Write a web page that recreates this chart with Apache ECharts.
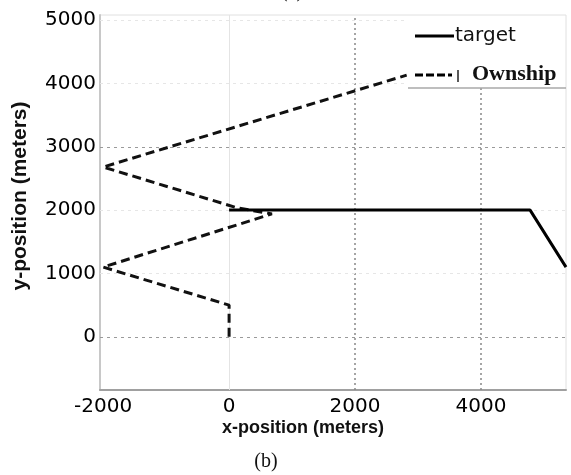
<!DOCTYPE html>
<html>
<head>
<meta charset="utf-8">
<script src="https://cdn.jsdelivr.net/npm/echarts@6/dist/echarts.min.js"></script>
<style>html,body{margin:0;padding:0;background:#fff;}#c{width:571px;height:475px;}</style>
</head>
<body>
<div id="c"></div>
<script>
// Data
const targetX = [0, 4780, 5350];
const targetY = [2000, 2000, 1100];
const ownshipX = [0, 0, -2000, 680, 130, -2000, 2820];
const ownshipY = [0, 500, 1100, 1940, 2035, 2680, 4130];
const xTicks = [-2000, 0, 2000, 4000];
const yTicks = [0, 1000, 2000, 3000, 4000, 5000];
const xGridStrong = [2000, 4000];
const xGridFaint = [0];
const yGridStrong = [0, 3000];
const yGridFaint = [1000, 2000, 4000, 5000];

const chart = echarts.init(document.getElementById('c'));
const pair = (xs, ys) => xs.map((x, i) => [x, ys[i]]);

const gridMarks = [];
xGridStrong.forEach(v => gridMarks.push({xAxis: v, lineStyle: {color: '#888', type: [2, 3], width: 1.5}}));
xGridFaint.forEach(v => gridMarks.push({xAxis: v, lineStyle: {color: '#e4e4e4', type: 'solid', width: 1}}));
yGridStrong.forEach(v => gridMarks.push({yAxis: v, lineStyle: {color: '#9a9a9a', type: [3, 4], width: 1}}));
yGridFaint.forEach(v => gridMarks.push({yAxis: v, lineStyle: {color: '#e6e6e6', type: [3, 4], width: 1}}));

const tickFont = {fontFamily: 'DejaVu Sans', fontSize: 20, color: '#000', formatter: v => String(v)};

chart.setOption({
  animation: false,
  backgroundColor: '#fff',
  grid: {left: 100, right: 5, top: 15, bottom: 85, show: true, borderColor: '#e0e0e0', borderWidth: 1},
  xAxis: {
    type: 'value', min: -2050, max: 5350,
    axisLine: {show: true, onZero: false, lineStyle: {color: '#a0a0a0', width: 2}},
    axisTick: {show: false},
    splitLine: {show: false},
    axisLabel: Object.assign({customValues: xTicks, margin: 7}, tickFont)
  },
  yAxis: {
    type: 'value', min: -840, max: 5080,
    axisLine: {show: true, onZero: false, lineStyle: {color: '#c8c8c8', width: 2}},
    axisTick: {show: false},
    splitLine: {show: false},
    axisLabel: Object.assign({customValues: yTicks, margin: 4}, tickFont)
  },
  series: [
    {
      type: 'line', data: [], silent: true, z: 1,
      markLine: {z: 1, silent: true, symbol: 'none', label: {show: false}, animation: false, data: gridMarks}
    },
    {
      name: 'target', type: 'line', data: pair(targetX, targetY), showSymbol: false, z: 4,
      lineStyle: {color: '#000', width: 3, type: 'solid'}
    },
    {
      name: 'Ownship', type: 'line', data: pair(ownshipX, ownshipY), showSymbol: false, z: 3,
      lineStyle: {color: '#111', width: 3, type: [9, 5]}
    }
  ],
  graphic: [
    // legend
    {type: 'rect', z: 50, shape: {x: 408, y: 16, width: 157, height: 72}, style: {fill: '#fff'}},
    {type: 'line', z: 51, shape: {x1: 408, y1: 88, x2: 566, y2: 88}, style: {stroke: '#a8a8a8', lineWidth: 1.5}},
    {type: 'line', z: 51, shape: {x1: 415, y1: 36, x2: 454, y2: 36}, style: {stroke: '#000', lineWidth: 3}},
    {type: 'text', z: 51, style: {x: 455, y: 36, text: 'target', font: '20px "DejaVu Sans"', fill: '#111', verticalAlign: 'middle'}},
    {type: 'line', z: 51, shape: {x1: 415, y1: 75, x2: 452, y2: 75}, style: {stroke: '#000', lineWidth: 3, lineDash: [8, 3]}},
    {type: 'line', z: 51, shape: {x1: 458, y1: 70, x2: 458, y2: 82}, style: {stroke: '#222', lineWidth: 1.5}},
    {type: 'text', z: 51, style: {x: 472, y: 74, text: 'Ownship', font: 'bold 22px "Liberation Serif"', fill: '#111', verticalAlign: 'middle'}},
    // axis names
    {type: 'text', z: 51, style: {x: 303, y: 428, text: 'x-position (meters)', font: 'bold 18px "Liberation Sans"', fill: '#111', align: 'center', verticalAlign: 'middle'}},
    {type: 'text', z: 51, x: 20, y: 196, rotation: Math.PI / 2, style: {x: 0, y: 0, text: 'y-position (meters)', font: 'bold 21px "Liberation Sans"', fill: '#111', align: 'center', verticalAlign: 'middle'}},
    // captions
    {type: 'text', z: 51, style: {x: 266, y: 462, text: '(b)', font: '20px "Liberation Serif"', fill: '#111', align: 'center', verticalAlign: 'middle'}},
    {type: 'text', z: 51, style: {x: 292, y: -8, text: '(a)', font: '20px "Liberation Serif"', fill: '#111', align: 'center', verticalAlign: 'middle'}}
  ]
});
</script>
</body>
</html>
